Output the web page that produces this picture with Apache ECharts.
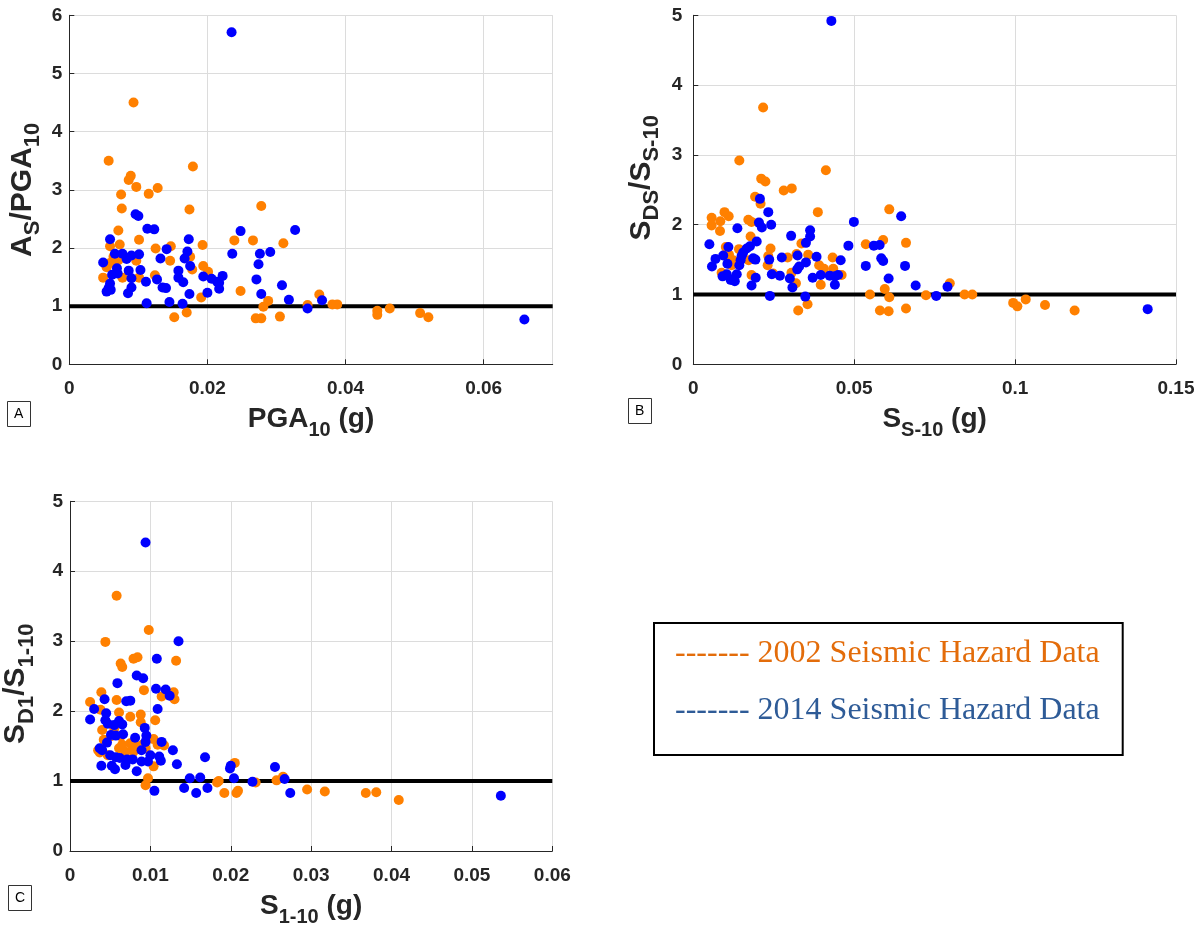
<!DOCTYPE html>
<html>
<head>
<meta charset="utf-8">
<script src="https://cdn.jsdelivr.net/npm/echarts@6/dist/echarts.min.js"></script>
<style>html,body{margin:0;padding:0;background:#fff;}#chart{width:1204px;height:930px;}</style>
</head>
<body>
<div id="chart"></div>
<script>
// ---------- DATA ----------
const seriesNames = ['2002 Seismic Hazard Data', '2014 Seismic Hazard Data'];

// Panel A: x = PGA10 (g), y = AS/PGA10
const panelA_2002 = [[0.0093,4.50],[0.0057,3.50],[0.0179,3.40],[0.0089,3.24],[0.0086,3.17],[0.0097,3.05],[0.0128,3.03],[0.0115,2.93],[0.0075,2.92],[0.0076,2.68],[0.0174,2.66],[0.0278,2.72],[0.0071,2.30],[0.0101,2.14],[0.0073,2.06],[0.0059,2.03],[0.0125,1.99],[0.0147,2.03],[0.0193,2.05],[0.0239,2.13],[0.0266,2.13],[0.0310,2.08],[0.0064,1.85],[0.0071,1.79],[0.0059,1.74],[0.0054,1.67],[0.0097,1.78],[0.0146,1.78],[0.0175,1.85],[0.0178,1.63],[0.0194,1.69],[0.0201,1.59],[0.0049,1.49],[0.0077,1.49],[0.0101,1.49],[0.0124,1.53],[0.0191,1.15],[0.0152,0.81],[0.0170,0.89],[0.0248,1.26],[0.0288,1.09],[0.0281,0.99],[0.0270,0.79],[0.0278,0.79],[0.0305,0.82],[0.0362,1.20],[0.0345,1.02],[0.0381,1.03],[0.0388,1.03],[0.0446,0.92],[0.0446,0.85],[0.0464,0.96],[0.0508,0.88],[0.0520,0.81]];
const panelA_2014 = [[0.0235,5.71],[0.0096,2.58],[0.0100,2.55],[0.0113,2.33],[0.0123,2.32],[0.0059,2.15],[0.0173,2.15],[0.0248,2.29],[0.0327,2.31],[0.0141,1.98],[0.0171,1.94],[0.0236,1.90],[0.0276,1.90],[0.0291,1.93],[0.0066,1.90],[0.0077,1.90],[0.0090,1.87],[0.0101,1.89],[0.0083,1.81],[0.0049,1.75],[0.0132,1.82],[0.0167,1.82],[0.0175,1.69],[0.0274,1.72],[0.0069,1.65],[0.0086,1.61],[0.0103,1.62],[0.0062,1.54],[0.0070,1.56],[0.0158,1.61],[0.0158,1.49],[0.0165,1.41],[0.0127,1.46],[0.0090,1.48],[0.0111,1.42],[0.0059,1.39],[0.0057,1.31],[0.0054,1.25],[0.0060,1.28],[0.0135,1.32],[0.0140,1.31],[0.0090,1.32],[0.0085,1.22],[0.0194,1.51],[0.0206,1.47],[0.0214,1.42],[0.0222,1.52],[0.0217,1.40],[0.0217,1.30],[0.0200,1.23],[0.0174,1.21],[0.0112,1.05],[0.0145,1.07],[0.0164,1.04],[0.0271,1.46],[0.0278,1.21],[0.0308,1.36],[0.0318,1.11],[0.0345,0.96],[0.0366,1.10],[0.0659,0.77]];

// Panel B: x = SS-10 (g), y = SDS/SS-10
const panelB_2002 = [[0.0217,3.68],[0.0143,2.92],[0.0412,2.78],[0.0211,2.66],[0.0224,2.62],[0.0281,2.49],[0.0306,2.52],[0.0192,2.40],[0.0209,2.30],[0.0387,2.18],[0.0097,2.18],[0.0110,2.12],[0.0057,2.10],[0.0057,1.99],[0.0084,2.05],[0.0083,1.91],[0.0171,2.07],[0.0181,2.04],[0.0178,1.83],[0.0142,1.65],[0.0101,1.68],[0.0240,1.66],[0.0336,1.73],[0.0321,1.58],[0.0111,1.57],[0.0124,1.49],[0.0119,1.42],[0.0233,1.55],[0.0293,1.53],[0.0357,1.57],[0.0433,1.53],[0.0172,1.49],[0.0231,1.42],[0.0391,1.42],[0.0406,1.37],[0.0435,1.37],[0.0088,1.31],[0.0181,1.28],[0.0248,1.30],[0.0305,1.31],[0.0319,1.16],[0.0396,1.14],[0.0461,1.28],[0.0326,0.77],[0.0355,0.86],[0.0609,2.22],[0.0536,1.72],[0.0590,1.78],[0.0661,1.74],[0.0595,1.08],[0.0609,0.96],[0.0549,1.00],[0.0580,0.77],[0.0607,0.76],[0.0661,0.80],[0.0723,0.99],[0.0797,1.16],[0.0843,1.00],[0.0867,1.00],[0.0994,0.88],[0.1007,0.83],[0.1033,0.93],[0.1093,0.85],[0.1185,0.77]];
const panelB_2014 = [[0.0429,4.92],[0.0207,2.37],[0.0233,2.18],[0.0499,2.04],[0.0137,1.95],[0.0204,2.03],[0.0213,1.96],[0.0242,2.00],[0.0304,1.84],[0.0363,1.92],[0.0363,1.83],[0.0350,1.74],[0.0050,1.72],[0.0197,1.76],[0.0176,1.69],[0.0166,1.66],[0.0155,1.60],[0.0150,1.55],[0.0147,1.49],[0.0143,1.42],[0.0109,1.68],[0.0482,1.70],[0.0093,1.56],[0.0069,1.51],[0.0058,1.40],[0.0106,1.44],[0.0186,1.52],[0.0193,1.50],[0.0236,1.50],[0.0275,1.53],[0.0324,1.56],[0.0383,1.54],[0.0458,1.49],[0.0350,1.46],[0.0329,1.40],[0.0323,1.36],[0.0091,1.26],[0.0104,1.29],[0.0116,1.21],[0.0129,1.19],[0.0121,1.21],[0.0135,1.29],[0.0194,1.24],[0.0181,1.13],[0.0244,1.29],[0.0269,1.27],[0.0300,1.23],[0.0308,1.10],[0.0371,1.24],[0.0396,1.28],[0.0424,1.27],[0.0440,1.26],[0.0450,1.28],[0.0440,1.14],[0.0238,0.98],[0.0348,0.97],[0.0646,2.12],[0.0561,1.70],[0.0579,1.71],[0.0536,1.41],[0.0584,1.52],[0.0590,1.48],[0.0658,1.41],[0.0607,1.23],[0.0691,1.13],[0.0790,1.11],[0.0755,0.98],[0.1412,0.79]];

// Panel C: x = S1-10 (g), y = SD1/S1-10
const panelC_2002 = [[0.0058,3.65],[0.0098,3.16],[0.0044,2.99],[0.0063,2.68],[0.0065,2.63],[0.0079,2.75],[0.0084,2.77],[0.0132,2.72],[0.0092,2.30],[0.0129,2.27],[0.0130,2.17],[0.0114,2.21],[0.0039,2.27],[0.0025,2.13],[0.0058,2.16],[0.0038,2.02],[0.0061,1.98],[0.0075,1.92],[0.0088,1.95],[0.0088,1.84],[0.0106,1.87],[0.0040,1.73],[0.0042,1.59],[0.0055,1.75],[0.0051,1.64],[0.0063,1.64],[0.0075,1.54],[0.0065,1.52],[0.0061,1.47],[0.0078,1.47],[0.0084,1.49],[0.0090,1.52],[0.0094,1.47],[0.0104,1.60],[0.0109,1.52],[0.0117,1.51],[0.0035,1.44],[0.0037,1.41],[0.0047,1.37],[0.0069,1.42],[0.0079,1.42],[0.0104,1.21],[0.0097,1.04],[0.0094,0.94],[0.0205,1.26],[0.0183,0.98],[0.0185,1.00],[0.0192,0.83],[0.0207,0.83],[0.0209,0.86],[0.0231,0.98],[0.0257,1.01],[0.0265,1.06],[0.0295,0.88],[0.0317,0.85],[0.0368,0.83],[0.0381,0.84],[0.0409,0.73]];
const panelC_2014 = [[0.0094,4.41],[0.0135,3.00],[0.0108,2.75],[0.0083,2.51],[0.0091,2.47],[0.0059,2.40],[0.0107,2.32],[0.0119,2.31],[0.0124,2.22],[0.0043,2.17],[0.0070,2.14],[0.0075,2.15],[0.0030,2.03],[0.0109,2.03],[0.0025,1.88],[0.0045,1.97],[0.0044,1.87],[0.0047,1.82],[0.0061,1.86],[0.0065,1.81],[0.0055,1.80],[0.0093,1.76],[0.0051,1.66],[0.0057,1.65],[0.0066,1.67],[0.0095,1.65],[0.0094,1.56],[0.0081,1.62],[0.0046,1.55],[0.0114,1.56],[0.0037,1.47],[0.0040,1.44],[0.0089,1.44],[0.0128,1.44],[0.0050,1.37],[0.0057,1.34],[0.0062,1.33],[0.0071,1.31],[0.0078,1.31],[0.0089,1.28],[0.0100,1.37],[0.0097,1.28],[0.0111,1.35],[0.0113,1.29],[0.0039,1.22],[0.0052,1.22],[0.0056,1.17],[0.0069,1.23],[0.0083,1.14],[0.0133,1.24],[0.0168,1.34],[0.0149,1.04],[0.0162,1.05],[0.0142,0.90],[0.0157,0.83],[0.0171,0.90],[0.0105,0.86],[0.0199,1.18],[0.0200,1.22],[0.0204,1.04],[0.0227,0.99],[0.0255,1.20],[0.0267,1.03],[0.0274,0.83],[0.0536,0.79]];

// Axis ranges / ticks
const xMax = [0.07, 0.15, 0.06];
const xInterval = [0.02, 0.05, 0.01];
const yMax = [6, 5, 5];
const refRatio = 1; // horizontal line y = 1
const panelLetters = ['A', 'B', 'C'];

// ---------- STYLE ----------
const ORANGE = '#ff8000', BLUE = '#0000ff';
const AX = '#262626';
const FONT = "'Liberation Sans', Arial, sans-serif";
const richX = {
  m: { fontSize: 28, fontWeight: 'bold', color: AX, fontFamily: FONT, lineHeight: 42, verticalAlign: 'middle' },
  s: { fontSize: 20, fontWeight: 'bold', color: AX, fontFamily: FONT, lineHeight: 20, verticalAlign: 'bottom' }
};
const richY = {
  m: { fontSize: 30, fontWeight: 'bold', color: AX, fontFamily: FONT, lineHeight: 44, verticalAlign: 'middle' },
  s: { fontSize: 22, fontWeight: 'bold', color: AX, fontFamily: FONT, lineHeight: 22, verticalAlign: 'bottom' }
};
const xNames = ['{m|PGA}{s|10}{m| (g)}', '{m|S}{s|S-10}{m| (g)}', '{m|S}{s|1-10}{m| (g)}'];
const yNames = ['{m|A}{s|S}{m|/PGA}{s|10}', '{m|S}{s|DS}{m|/S}{s|S-10}', '{m|S}{s|D1}{m|/S}{s|1-10}'];
const yNamePad = [[0,0,0,0],[0,0,0,24],[0,15,0,0]];
const yNameGap = [25, 30, 32];
const grids = [
  { left: 69.3, top: 15.3, width: 483.4, height: 349 },
  { left: 693.3, top: 15.3, width: 482.7, height: 349 },
  { left: 69.3, top: 501.3, width: 483, height: 349.7 }
];

const axisCommon = {
  axisLine: { show: true, onZero: false, lineStyle: { color: AX, width: 1 } },
  axisTick: { show: true, inside: true, length: 5, lineStyle: { color: AX } },
  splitLine: { show: true, lineStyle: { color: '#dcdcdc', width: 1 } },
  axisLabel: { color: AX, fontSize: 19, fontWeight: 'bold', fontFamily: FONT }
};

const xAxes = [0,1,2].map(i => Object.assign({}, axisCommon, {
  type: 'value', gridIndex: i, min: 0, max: xMax[i], interval: xInterval[i],
  axisLabel: Object.assign({}, axisCommon.axisLabel, { margin: 15, showMaxLabel: i !== 0 }),
  name: xNames[i], nameLocation: 'middle', nameGap: 34,
  nameTextStyle: { rich: richX }
}));
const yAxes = [0,1,2].map(i => Object.assign({}, axisCommon, {
  type: 'value', gridIndex: i, min: 0, max: yMax[i], interval: 1,
  axisLabel: Object.assign({}, axisCommon.axisLabel, { margin: i === 1 ? 11 : 7 }),
  name: yNames[i], nameLocation: 'middle', nameGap: yNameGap[i],
  nameTextStyle: { rich: richY, padding: yNamePad[i] }
}));

const panelData = [[panelA_2002, panelA_2014], [panelB_2002, panelB_2014], [panelC_2002, panelC_2014]];
const series = [];
[0,1,2].forEach(i => {
  series.push({
    name: 'ref', type: 'line', xAxisIndex: i, yAxisIndex: i, silent: true,
    data: [[0, refRatio], [xMax[i], refRatio]], symbol: 'none',
    lineStyle: { color: '#000', width: 4 }, z: 2
  });
  series.push({ name: seriesNames[0], type: 'scatter', xAxisIndex: i, yAxisIndex: i,
    data: panelData[i][0], symbolSize: 10, itemStyle: { color: ORANGE, opacity: 1 }, z: 3 });
  series.push({ name: seriesNames[1], type: 'scatter', xAxisIndex: i, yAxisIndex: i,
    data: panelData[i][1], symbolSize: 10, itemStyle: { color: BLUE, opacity: 1 }, z: 4 });
});

const titlePos = [{ left: 7, top: 401 }, { left: 628, top: 398 }, { left: 8, top: 885 }];
const titles = panelLetters.map((t, i) => ({
  text: t, left: titlePos[i].left, top: titlePos[i].top,
  padding: [5, 7, 5, 7], borderWidth: 1, borderColor: '#333',
  textStyle: { fontSize: 14, fontWeight: 'normal', color: '#000', fontFamily: FONT, lineHeight: 16 }
}));

const chart = echarts.init(document.getElementById('chart'), null, { renderer: 'canvas' });
chart.setOption({
  animation: false,
  backgroundColor: '#fff',
  title: titles,
  grid: grids,
  xAxis: xAxes,
  yAxis: yAxes,
  legend: {
    orient: 'vertical', left: 654, top: 623,
    data: [
      { name: seriesNames[0], textStyle: { color: '#e36c0a' } },
      { name: seriesNames[1], textStyle: { color: '#2e5b97' } }
    ],
    icon: 'none', itemWidth: 0, itemHeight: 32, itemGap: 25,
    formatter: '------- {name}',
    padding: [15, 23, 28, 16],
    borderColor: '#000', borderWidth: 2,
    textStyle: { fontSize: 32, fontFamily: "'Liberation Serif', 'Times New Roman', serif", lineHeight: 32 },
    selectedMode: false
  },
  series: series
});
</script>
</body>
</html>
